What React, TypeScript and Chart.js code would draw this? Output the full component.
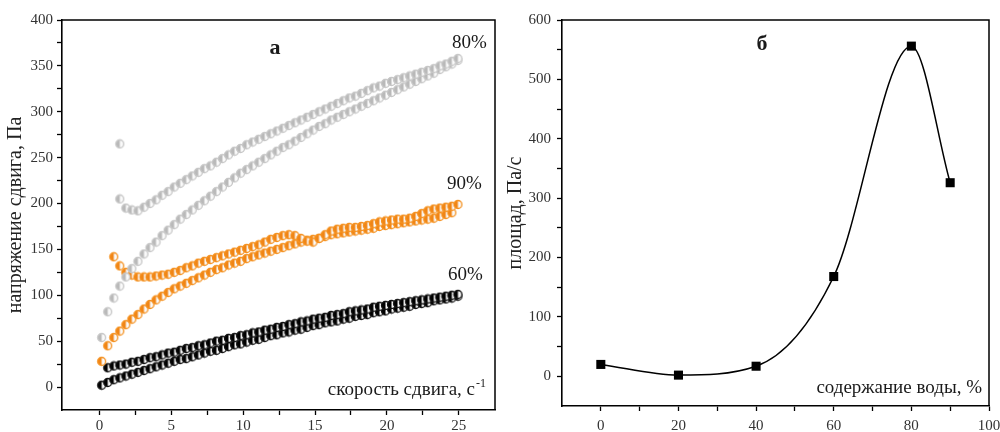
import React, { useEffect, useRef } from 'react';
import { Chart, registerables } from 'chart.js';

Chart.register(...registerables);

// ---------- Panel а: shear stress vs shear rate ----------
const SHEAR_RATE = [0.16, 0.58, 1.0, 1.42, 1.84, 2.26, 2.68, 3.1, 3.52, 3.94, 4.36, 4.78, 5.2, 5.62, 6.04, 6.46, 6.88, 7.3, 7.72, 8.14, 8.56, 8.98, 9.4, 9.82, 10.24, 10.66, 11.08, 11.5, 11.92, 12.34, 12.76, 13.18, 13.6, 14.02, 14.44, 14.86, 15.28, 15.7, 16.12, 16.54, 16.96, 17.38, 17.8, 18.22, 18.64, 19.06, 19.48, 19.9, 20.32, 20.74, 21.16, 21.58, 22.0, 22.42, 22.84, 23.26, 23.68, 24.1, 24.52, 24.94];

const STRESS_80_UP = [null, null, null, 205, 195, 193, 192, 196, 200, 204, 209, 213, 218, 222, 226, 230, 234, 238, 241, 245, 249, 253, 257, 260, 264, 267, 270, 273, 276, 279, 282, 285, 288, 291, 294, 297, 300, 303, 306, 309, 312, 315, 317, 320, 323, 326, 328, 331, 333, 335, 337, 339, 341, 343, 345, 347, 350, 352, 355, 358];
const STRESS_80_DOWN = [54, 82, 97, 110, 120, 129, 137, 145, 152, 158, 165, 171, 177, 183, 188, 193, 198, 203, 208, 213, 218, 223, 228, 233, 237, 241, 245, 249, 253, 257, 261, 264, 268, 272, 276, 280, 284, 287, 291, 294, 297, 300, 303, 306, 309, 312, 315, 318, 321, 324, 327, 330, 333, 336, 339, 342, 346, 349, 352, 356];
const EXTRA_80_RATE = [1.42];
const EXTRA_80_STRESS = [265];

const STRESS_90_UP = [null, null, 142, 132, 125, 122, 120, 120, 120, 121, 122, 123, 125, 127, 130, 132, 135, 137, 139, 141, 143, 145, 147, 149, 151, 153, 155, 158, 161, 163, 165, 166, 165, 162, 159, 158, 162, 166, 170, 172, 173, 174, 174, 175, 176, 178, 180, 181, 182, 183, 183, 184, 186, 189, 192, 194, 195, 196, 197, 199];
const STRESS_90_DOWN = [28, 45, 54, 61, 68, 74, 79, 85, 90, 95, 99, 103, 107, 110, 113, 116, 119, 122, 125, 128, 130, 133, 135, 137, 140, 142, 144, 146, 148, 150, 152, 154, 156, 158, 160, 161, 162, 164, 166, 167, 168, 169, 170, 171, 172, 173, 175, 176, 177, 178, 179, 180, 181, 182, 183, 184, 186, 188, 190, null];

const STRESS_60_UP = [null, 21, 23, 24, 25, 27, 28, 30, 32, 33, 35, 37, 38, 40, 42, 43, 45, 46, 48, 50, 51, 53, 54, 56, 57, 59, 60, 62, 63, 65, 66, 68, 69, 71, 72, 74, 75, 76, 78, 79, 80, 82, 83, 84, 85, 87, 88, 89, 90, 91, 92, 93, 94, 95, 96, 97, 98, 99, 100, 101];
const STRESS_60_DOWN = [2, 5, 8, 10, 12, 14, 16, 18, 20, 22, 24, 26, 28, 30, 31, 33, 35, 37, 39, 40, 42, 44, 46, 47, 49, 51, 52, 54, 56, 57, 59, 60, 62, 63, 65, 67, 68, 70, 71, 72, 74, 75, 77, 78, 79, 81, 82, 83, 85, 86, 87, 88, 90, 91, 92, 94, 95, 96, 97, 99];

const LEFT_X_TICKS = [0, 2.5, 5, 7.5, 10, 12.5, 15, 17.5, 20, 22.5, 25];
const LEFT_X_LABELS = [0, 5, 10, 15, 20, 25];
const LEFT_Y_TICKS = [0, 25, 50, 75, 100, 125, 150, 175, 200, 225, 250, 275, 300, 325, 350, 375, 400];
const LEFT_Y_LABELS = [0, 50, 100, 150, 200, 250, 300, 350, 400];

// ---------- Panel б: area vs water content ----------
const WATER_CONTENT = [0, 20, 40, 60, 80, 90];
const AREA = [20, 2, 17, 168, 556, 326];

const RIGHT_X_TICKS = [0, 10, 20, 30, 40, 50, 60, 70, 80, 90, 100];
const RIGHT_X_LABELS = [0, 20, 40, 60, 80, 100];
const RIGHT_Y_TICKS = [0, 50, 100, 150, 200, 250, 300, 350, 400, 450, 500, 550, 600];
const RIGHT_Y_LABELS = [0, 100, 200, 300, 400, 500, 600];

const SERIF = '"Liberation Serif", "Times New Roman", serif';

function toPoints(xs: number[], ys: (number | null)[]) {
  const out: { x: number; y: number }[] = [];
  xs.forEach((x, i) => {
    const y = ys[i];
    if (y !== null && y !== undefined) out.push({ x, y });
  });
  return out;
}

function halfCircle(fill: string, edge: string): HTMLCanvasElement {
  const c = document.createElement('canvas');
  c.width = 11;
  c.height = 11;
  const g = c.getContext('2d')!;
  const cx = 5.5, cy = 5.5, r = 4;
  g.beginPath();
  g.arc(cx, cy, r, 0, Math.PI * 2);
  g.fillStyle = '#fafafa';
  g.fill();
  g.beginPath();
  g.arc(cx, cy, r, Math.PI / 2, (Math.PI * 3) / 2);
  g.closePath();
  g.fillStyle = fill;
  g.fill();
  g.beginPath();
  g.arc(cx, cy, r, 0, Math.PI * 2);
  g.lineWidth = 1.3;
  g.strokeStyle = edge;
  g.stroke();
  return c;
}

const framePlugin = {
  id: 'frame',
  afterDraw(chart: any) {
    const { ctx, chartArea: a } = chart;
    ctx.save();
    ctx.strokeStyle = '#000';
    ctx.lineWidth = 1.5;
    ctx.beginPath();
    ctx.moveTo(a.left, a.top);
    ctx.lineTo(a.right, a.top);
    ctx.lineTo(a.right, a.bottom);
    ctx.stroke();
    ctx.restore();
  },
};

type Txt = { text: string; x: number; y: number; size: number; bold?: boolean; align?: CanvasTextAlign; sup?: string };

function textPlugin(items: Txt[]) {
  return {
    id: 'texts',
    afterDraw(chart: any) {
      const ctx = chart.ctx as CanvasRenderingContext2D;
      ctx.save();
      ctx.fillStyle = '#1a1a1a';
      ctx.textBaseline = 'alphabetic';
      for (const t of items) {
        ctx.font = `${t.bold ? 'bold ' : ''}${t.size}px ${SERIF}`;
        ctx.textAlign = t.align || 'left';
        ctx.fillText(t.text, t.x, t.y);
        if (t.sup) {
          const w = ctx.measureText(t.text).width;
          const startX = t.align === 'center' ? t.x + w / 2 : t.align === 'right' ? t.x : t.x + w;
          ctx.font = `${Math.round(t.size * 0.62)}px ${SERIF}`;
          ctx.textAlign = 'left';
          ctx.fillText(t.sup, startX + 1, t.y - t.size * 0.42);
        }
      }
      ctx.restore();
    },
  };
}

function axisCommon(ticksList: number[], labels: number[], fitSize: number, isX: boolean, pad: number) {
  return {
    type: 'linear' as const,
    afterBuildTicks: (s: any) => {
      s.ticks = ticksList.map((v) => ({ value: v }));
    },
    afterFit: (s: any) => {
      if (isX) {
        s.height = fitSize;
        s.paddingLeft = 0;
        s.paddingRight = 0;
      } else {
        s.width = fitSize;
        s.paddingTop = 0;
        s.paddingBottom = 0;
      }
    },
    grid: { display: true, drawOnChartArea: false, drawTicks: true, tickLength: 5, tickWidth: 1.3, tickColor: '#000' },
    border: { display: true, color: '#000', width: 1.6 },
    ticks: {
      autoSkip: false,
      maxRotation: 0,
      minRotation: 0,
      padding: pad,
      color: '#333',
      font: { family: SERIF, size: 15 },
      callback: (v: any) => (labels.includes(Number(v)) ? String(v) : ''),
    },
  };
}

function LeftPanel() {
  const ref = useRef<HTMLCanvasElement | null>(null);
  useEffect(() => {
    if (!ref.current) return;
    const gray = halfCircle('#b9b9b9', '#c6c6c6');
    const orange = halfCircle('#f08516', '#f5911f');
    const black = halfCircle('#000', '#111');
    const ds = (data: any, style: any) => ({ data, pointStyle: style, pointRadius: 4, showLine: false });
    const chart = new Chart(ref.current, {
      type: 'scatter',
      data: {
        datasets: [
          ds(toPoints(SHEAR_RATE, STRESS_80_UP), gray),
          ds(toPoints(SHEAR_RATE, STRESS_80_DOWN), gray),
          ds(toPoints(EXTRA_80_RATE, EXTRA_80_STRESS), gray),
          ds(toPoints(SHEAR_RATE, STRESS_90_UP), orange),
          ds(toPoints(SHEAR_RATE, STRESS_90_DOWN), orange),
          ds(toPoints(SHEAR_RATE, STRESS_60_UP), black),
          ds(toPoints(SHEAR_RATE, STRESS_60_DOWN), black),
        ],
      },
      options: {
        responsive: false,
        animation: false,
        layout: { padding: { left: 0, right: 3, top: 20, bottom: 0 } },
        plugins: { legend: { display: false }, tooltip: { enabled: false } },
        scales: {
          x: { ...axisCommon(LEFT_X_TICKS, LEFT_X_LABELS, 22, true, 2), min: -2.6, max: 27.52 },
          y: {
            ...axisCommon(LEFT_Y_TICKS, LEFT_Y_LABELS, 62, false, 4),
            min: -25,
            max: 400,
            title: { display: true, text: 'напряжение сдвига, Па', color: '#222', font: { family: SERIF, size: 20 }, padding: { top: 4, bottom: 0 } },
          },
        },
      },
      plugins: [
        framePlugin,
        textPlugin([
          { text: 'а', x: 275, y: 54, size: 22, bold: true, align: 'center' },
          { text: '80%', x: 452, y: 48, size: 19 },
          { text: '90%', x: 447, y: 189, size: 19 },
          { text: '60%', x: 448, y: 280, size: 19 },
          { text: 'скорость сдвига, с', x: 475, y: 395, size: 19, align: 'right', sup: '-1' },
        ]),
      ],
    } as any);
    return () => chart.destroy();
  }, []);
  return <canvas ref={ref} width={500} height={432} style={{ display: 'block' }} />;
}

function RightPanel() {
  const ref = useRef<HTMLCanvasElement | null>(null);
  useEffect(() => {
    if (!ref.current) return;
    const chart = new Chart(ref.current, {
      type: 'scatter',
      data: {
        datasets: [
          {
            data: toPoints(WATER_CONTENT, AREA),
            showLine: true,
            cubicInterpolationMode: 'monotone',
            borderColor: '#000',
            borderWidth: 1.5,
            backgroundColor: '#000',
            pointStyle: 'rect',
            pointRadius: 6.4,
            pointBorderWidth: 0,
          },
        ],
      },
      options: {
        responsive: false,
        animation: false,
        layout: { padding: { left: 0, right: 11, top: 20, bottom: 0 } },
        plugins: { legend: { display: false }, tooltip: { enabled: false } },
        scales: {
          x: { ...axisCommon(RIGHT_X_TICKS, RIGHT_X_LABELS, 26, true, 6), min: -10, max: 100 },
          y: {
            ...axisCommon(RIGHT_Y_TICKS, RIGHT_Y_LABELS, 62, false, 6),
            min: -50,
            max: 600,
            title: { display: true, text: 'площад, Па/с', color: '#222', font: { family: SERIF, size: 20 }, padding: { top: 4, bottom: 0 } },
          },
        },
      },
      plugins: [
        framePlugin,
        textPlugin([
          { text: 'б', x: 262, y: 50, size: 22, bold: true, align: 'center' },
          { text: 'содержание воды, %', x: 482, y: 393, size: 19, align: 'right' },
        ]),
      ],
    } as any);
    return () => chart.destroy();
  }, []);
  return <canvas ref={ref} width={500} height={432} style={{ display: 'block' }} />;
}

export default function App() {
  return (
    <div style={{ position: 'fixed', left: 0, top: 0, width: 1000, height: 432, display: 'flex', background: '#fff', overflow: 'hidden' }}>
      <LeftPanel />
      <RightPanel />
    </div>
  );
}
